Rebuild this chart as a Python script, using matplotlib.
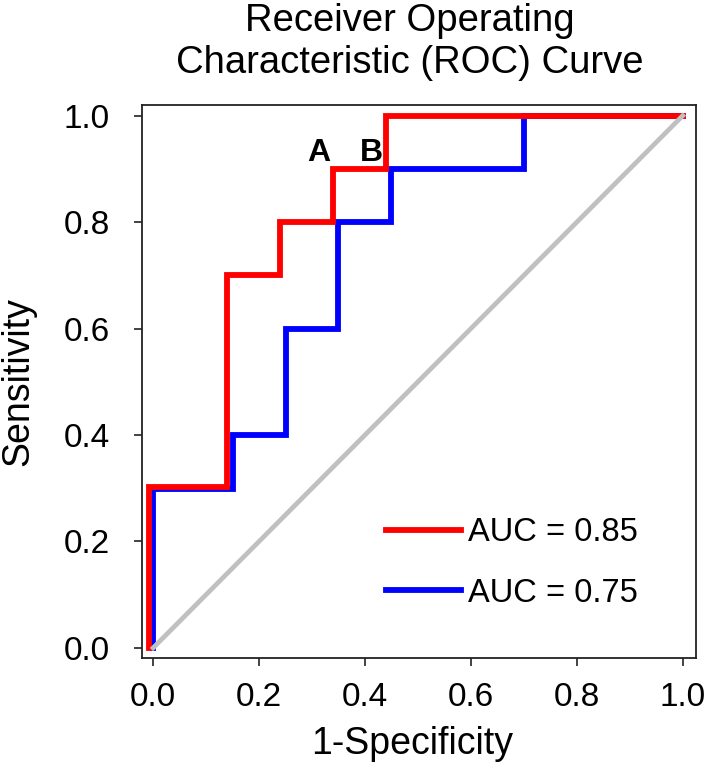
import matplotlib
matplotlib.use("Agg")
import matplotlib.pyplot as plt

plt.rcParams['font.family'] = ['Liberation Sans', 'DejaVu Sans']

# ROC curves (1-specificity, sensitivity)
fpr_a = [-0.008, -0.008, 0.14, 0.14, 0.24, 0.24, 0.34, 0.34, 0.44, 0.44, 1.0]
tpr_a = [0.0, 0.303, 0.303, 0.70, 0.70, 0.80, 0.80, 0.90, 0.90, 1.0, 1.0]
fpr_b = [0.0, 0.0, 0.15, 0.15, 0.25, 0.25, 0.35, 0.35, 0.45, 0.45, 0.70, 0.70, 1.0]
tpr_b = [0.0, 0.298, 0.298, 0.40, 0.40, 0.60, 0.60, 0.80, 0.80, 0.90, 0.90, 1.0, 1.0]
diag = [0.0, 1.0]
labels = ["AUC = 0.85", "AUC = 0.75"]
ticks = [0.0, 0.2, 0.4, 0.6, 0.8, 1.0]

fig = plt.figure(figsize=(7.09, 7.70), dpi=100)
ax = fig.add_axes([142/709, 1 - 658/770, 554/709, 553/770])

ax.plot(fpr_b, tpr_b, color='#0000ff', lw=4.2, label=labels[1], zorder=2,
        solid_joinstyle='miter')
ax.plot(fpr_a, tpr_a, color='#ff0000', lw=4.2, label=labels[0], zorder=3,
        solid_joinstyle='miter')
ax.plot(diag, diag, color='#c0c0c0', lw=3.4, zorder=4)

ax.text(0.313, 0.93, "A", fontsize=23, fontweight='bold', ha='center', va='center')
ax.text(0.413, 0.93, "B", fontsize=23, fontweight='bold', ha='center', va='center')

ax.set_xlim(-0.021, 1.025)
ax.set_ylim(-0.019, 1.02)
ax.set_xticks(ticks)
ax.set_yticks(ticks)
ax.set_xticklabels(["%.1f" % t for t in ticks])
ax.set_yticklabels(["%.1f" % t for t in ticks])
ax.tick_params(axis='both', direction='out', length=6, width=1.2, color='#222222',
               labelsize=24)
ax.tick_params(axis='x', pad=11)
ax.tick_params(axis='y', pad=17)
for s in ax.spines.values():
    s.set_linewidth(1.3)
    s.set_color('#222222')

ax.set_xlabel("1-Specificity", fontsize=27)
ax.set_ylabel("Sensitivity", fontsize=27)
ax.xaxis.set_label_coords(0.487, -0.123)
ax.yaxis.set_label_coords(-0.19, 0.5)
ax.set_title("Receiver Operating\nCharacteristic (ROC) Curve", fontsize=27.5,
             x=0.484, pad=23, linespacing=1.2)

handles, labs = ax.get_legend_handles_labels()
ax.legend(handles[::-1], labs[::-1], loc='center', bbox_to_anchor=(0.668, 0.172),
          frameon=False, fontsize=23.5, handlelength=2.3, handletextpad=0.2,
          labelspacing=0.9)

fig.savefig("out.png", dpi=100)
